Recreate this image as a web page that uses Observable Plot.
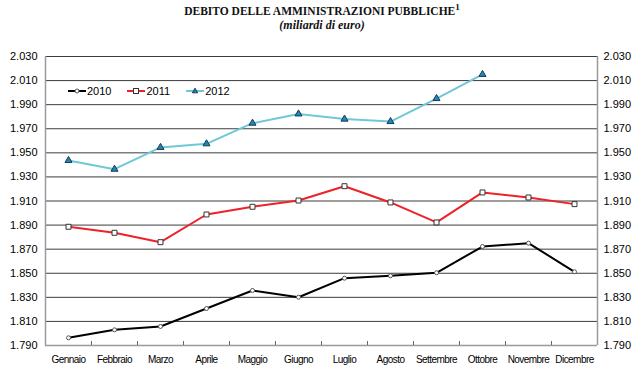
<!DOCTYPE html>
<html><head><meta charset="utf-8">
<script src="https://cdn.jsdelivr.net/npm/d3@7"></script>
<script src="https://cdn.jsdelivr.net/npm/@observablehq/plot@0.6"></script>
<style>
body{margin:0;background:#fff;font-family:"Liberation Sans",Arial,sans-serif;}
#wrap{width:642px;}
#title{height:40px;text-align:center;font-family:"Liberation Serif","Times New Roman",serif;color:#111;overflow:hidden;}
#t1{font-weight:bold;font-size:11.5px;padding-top:4px;line-height:14px;padding-left:2px;}
#t1 sup{font-size:9px;vertical-align:5px;line-height:0;}
#t2{font-style:italic;font-weight:bold;font-size:12px;line-height:12px;margin-top:1px;padding-left:2px;}
#chart{position:relative;}
#legend{position:absolute;left:68px;top:45px;display:flex;align-items:center;font-size:11px;color:#000;}
#legend .it{display:flex;align-items:center;margin-right:16px;}
#legend svg{display:block;margin-right:1px;}
</style></head>
<body>
<div id="wrap">
<div id="title"><div id="t1">DEBITO DELLE AMMINISTRAZIONI PUBBLICHE<sup>1</sup></div><div id="t2">(miliardi di euro)</div></div>
<div id="chart"><div id="legend"></div></div>
</div>
<script>
const months = ["Gennaio","Febbraio","Marzo","Aprile","Maggio","Giugno","Luglio","Agosto","Settembre","Ottobre","Novembre","Dicembre"];
const years = ["2010","2011","2012"];
const v2010 = [1796.4,1803,1805.8,1820.7,1835.7,1830.1,1845.9,1847.9,1850.4,1872.2,1875,1851.2];
const v2011 = [1888.6,1883.6,1875.8,1898.8,1905.2,1910.4,1922.3,1908.8,1892.2,1917.1,1912.9,1907.4];
const v2012 = [1943.7,1936.4,1954.5,1957.5,1974.6,1982.3,1978,1976,1995.1,2015.1];
const yTicks = [1790,1810,1830,1850,1870,1890,1910,1930,1950,1970,1990,2010,2030];

const colors = {"2010":"#000000","2011":"#ee2128","2012":"#6fc8d8"};
const rows = (vals, year) => vals.map((v,i)=>({i, value:v, year}));
const d2010 = rows(v2010,"2010"), d2011 = rows(v2011,"2011"), d2012 = rows(v2012,"2012");
const idx = months.map((m,i)=>i);
const bounds = idx.slice(1).map(i=>i-0.5);
const fmt = d => d3.format(",")(d).replace(",", ".");

const plot = Plot.plot({
  width:642, height:337,
  marginTop:16, marginBottom:32, marginLeft:45, marginRight:45,
  style:{fontFamily:"'Liberation Sans', Arial, sans-serif", fontSize:"11px", color:"#000", background:"#fff"},
  x:{domain:[-0.5,11.5], axis:null},
  y:{domain:[1790,2030], axis:null},
  marks:[
    Plot.gridY(yTicks, {stroke:"#3c3c3c", strokeOpacity:1, strokeWidth:1}),
    Plot.ruleY([1790], {stroke:"#9a9a9a", strokeWidth:1.5}),
    Plot.ruleX([-0.5, 11.5], {stroke:"#9a9a9a", strokeWidth:1.5}),
    Plot.ruleX(bounds.map(b=>({b, y:1790})), {x:"b", y1:"y", y2:"y", insetTop:-4, stroke:"#666"}),
    Plot.axisY(yTicks, {anchor:"left", tickSize:0, tickPadding:8, tickFormat:fmt, fontSize:11}),
    Plot.axisY(yTicks, {anchor:"right", tickSize:0, tickPadding:6, tickFormat:fmt, fontSize:11}),
    Plot.axisX(idx, {anchor:"bottom", tickSize:0, tickPadding:10, tickFormat:i=>months[i], fontSize:10}),
    Plot.line(d2010, {x:"i", y:"value", stroke:colors["2010"], strokeWidth:2}),
    Plot.line(d2011, {x:"i", y:"value", stroke:colors["2011"], strokeWidth:2}),
    Plot.line(d2012, {x:"i", y:"value", stroke:colors["2012"], strokeWidth:2}),
    Plot.dot(d2010, {x:"i", y:"value", r:2, fill:"#fff", stroke:"#555", strokeWidth:1}),
    Plot.dot(d2011, {x:"i", y:"value", symbol:"square", r:2.8, fill:"#fff", stroke:"#333", strokeWidth:1}),
    Plot.dot(d2012, {x:"i", y:"value", symbol:"triangle", r:2.6, fill:"#1e88b8", stroke:"#1a3a50", strokeWidth:1})
  ]
});
plot.querySelectorAll("text").forEach(t=>{
  if (months.includes(t.textContent.trim())) { t.setAttribute("letter-spacing","-0.55"); t.style.letterSpacing="-0.55px"; }
});
const chart = document.getElementById("chart");
chart.insertBefore(plot, chart.firstChild);

// legend
const marker = {
  "2010": '<circle cx="9" cy="5" r="2" fill="#fff" stroke="#555"/>',
  "2011": '<rect x="6.5" y="2.5" width="5" height="5" fill="#fff" stroke="#333"/>',
  "2012": '<path d="M9,2.2 L11.6,6.8 L6.4,6.8 Z" fill="#1e88b8" stroke="#1a3a50"/>'
};
const leg = document.getElementById("legend");
years.forEach(y=>{
  const it = document.createElement("div"); it.className="it";
  it.innerHTML = `<svg width="18" height="10"><line x1="0" x2="18" y1="5" y2="5" stroke="${colors[y]}" stroke-width="2"/>${marker[y]}</svg><span>${y}</span>`;
  leg.appendChild(it);
});
</script>
</body></html>
